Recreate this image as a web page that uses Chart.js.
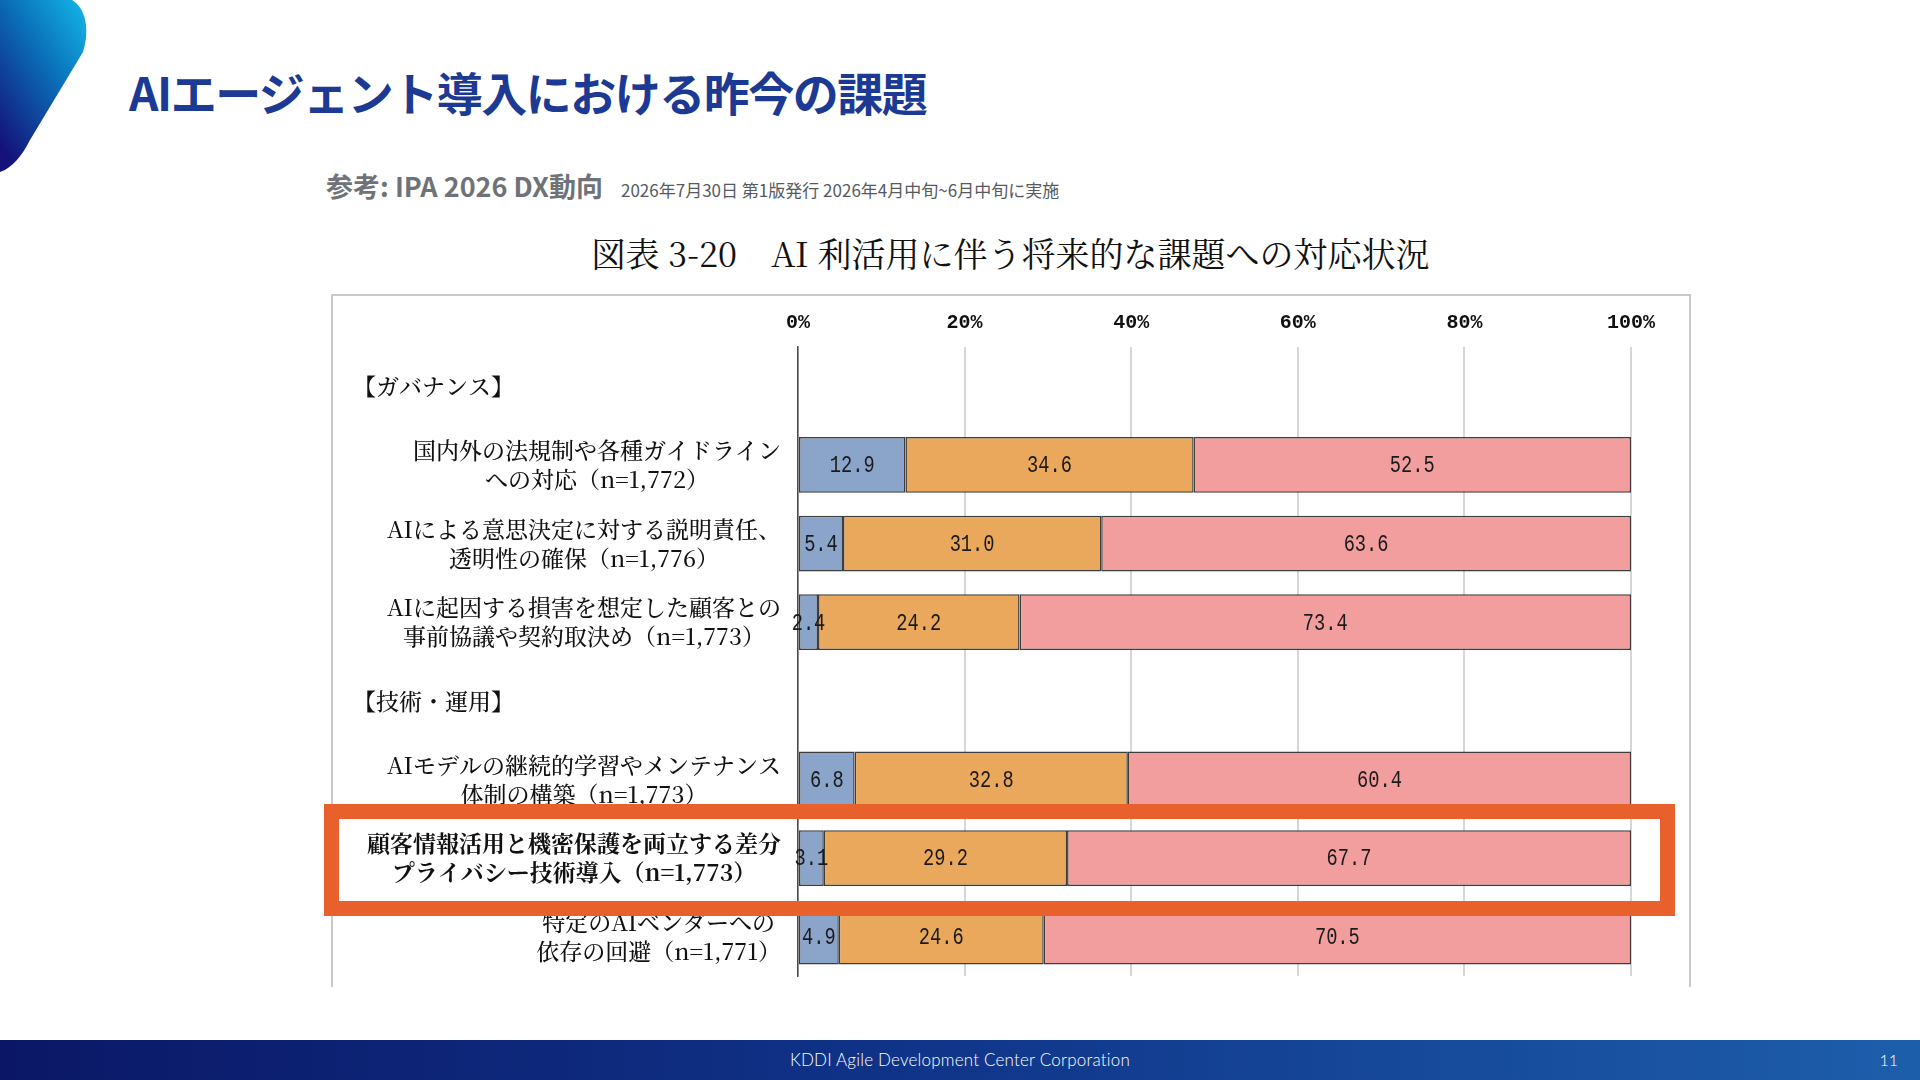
<!DOCTYPE html>
<html lang="ja">
<head>
<meta charset="utf-8">
<title>AIエージェント導入における昨今の課題</title>
<script src="https://cdn.jsdelivr.net/npm/chart.js@4.4.1/dist/chart.umd.min.js"></script>
<style>
  html, body { margin: 0; padding: 0; }
  body {
    width: 1920px; height: 1080px; position: relative; overflow: hidden;
    background: #ffffff;
    font-family: "Noto Sans CJK JP", "Noto Sans", sans-serif;
  }
  #blob { position: absolute; left: 0; top: 0; }
  #pageTitle {
    position: absolute; left: 129px; top: 62px;
    font-size: 46px; line-height: 58px; font-weight: 700;
    letter-spacing: -1.5px; color: #1c3a94; white-space: nowrap;
  }
  #refMain {
    position: absolute; left: 326px; top: 169px;
    font-size: 27px; line-height: 34px; font-weight: 700;
    color: #6f7378; white-space: nowrap;
  }
  #refSub {
    position: absolute; left: 621px; top: 179px;
    font-size: 17px; line-height: 22px; color: #555a60; white-space: nowrap;
  }
  #chartTitle {
    position: absolute; left: 591px; top: 229px; width: 839px;
    font-family: "Noto Serif CJK JP", "Noto Sans CJK JP", serif;
    font-size: 34px; line-height: 48px; color: #111; text-align: center;
    white-space: nowrap;
  }
  #chartBox {
    position: absolute; left: 331px; top: 294px; width: 1360px; height: 693px;
    box-sizing: border-box; border: 2px solid #c9c9c9; border-bottom: none;
  }
  #chartBox canvas { position: absolute; left: 0; top: 0; }
  #highlight {
    position: absolute; left: 324px; top: 804px; width: 1351px; height: 112px;
    box-sizing: border-box; border: 15px solid #e8602c; z-index: 5;
  }
  #footer {
    position: absolute; left: 0; top: 1040px; width: 1920px; height: 40px;
    background: linear-gradient(90deg, #0b1766 0%, #0f3287 45%, #1d5eab 100%);
    color: #ffffff; font-family: Lato, "Open Sans", sans-serif; font-weight: 300;
  }
  #footer .corp {
    position: absolute; left: 0; width: 1920px; top: 9px; text-align: center;
    font-size: 17px; line-height: 22px; letter-spacing: 0.2px;
  }
  #footer .page {
    position: absolute; right: 22px; top: 9px; font-size: 16px; line-height: 22px;
  }
</style>
</head>
<body>

<svg id="blob" width="95" height="180" viewBox="0 0 95 180">
  <defs>
    <linearGradient id="blobGrad" x1="1" y1="0" x2="0.2" y2="1">
      <stop offset="0" stop-color="#14b8ea"/>
      <stop offset="0.45" stop-color="#0a6fb8"/>
      <stop offset="1" stop-color="#15127a"/>
    </linearGradient>
  </defs>
  <path d="M0 0 H72 C86 8 90 30 83 52 L30 140 C22 156 12 168 0 172 Z" fill="url(#blobGrad)"/>
</svg>

<div id="pageTitle">AIエージェント導入における昨今の課題</div>
<div id="refMain">参考: IPA 2026 DX動向</div>
<div id="refSub">2026年7月30日 第1版発行 2026年4月中旬~6月中旬に実施</div>
<div id="chartTitle">図表 3-20　AI 利活用に伴う将来的な課題への対応状況</div>

<div id="chartBox">
  <canvas id="myChart" width="1356" height="691"></canvas>
</div>
<div id="highlight"></div>

<div id="footer">
  <div class="corp">KDDI Agile Development Center Corporation</div>
  <div class="page">11</div>
</div>

<script>
// rows of the chart, top to bottom (one-line rows are section headers)
var rowLabels = [
  ['【ガバナンス】'],
  ['国内外の法規制や各種ガイドライン', 'への対応（n=1,772）'],
  ['AIによる意思決定に対する説明責任、', '透明性の確保（n=1,776）'],
  ['AIに起因する損害を想定した顧客との', '事前協議や契約取決め（n=1,773）'],
  ['【技術・運用】'],
  ['AIモデルの継続的学習やメンテナンス', '体制の構築（n=1,773）'],
  ['顧客情報活用と機密保護を両立する差分', 'プライバシー技術導入（n=1,773）'],
  ['特定のAIベンダーへの', '依存の回避（n=1,771）']
];
var seriesNames = ['対応済み', '対応予定', '未対応'];
var doneValues = [null, 12.9, 5.4, 2.4, null, 6.8, 3.1, 4.9];
var planValues = [null, 34.6, 31.0, 24.2, null, 32.8, 29.2, 24.6];
var notValues  = [null, 52.5, 63.6, 73.4, null, 60.4, 67.7, 70.5];
var tickStep = 20;
var highlightRow = 6;

const BAR_COLORS = ['#8aa4ca', '#e9a85b', '#f29e9e'];
const LABEL_FONT = '"Noto Serif CJK JP", "Noto Sans CJK JP", serif';

// left side labels: headers left aligned, item lines centred inside a right aligned block
var rowLabelPlugin = {
  id: 'rowLabels',
  afterDraw: function(chart) {
    var ctx = chart.ctx;
    var yScale = chart.scales.y;
    var rightEdge = chart.chartArea.left - 17;
    ctx.save();
    ctx.fillStyle = '#111';
    ctx.textBaseline = 'middle';
    rowLabels.forEach(function(lines, i) {
      var y = yScale.getPixelForValue(i);
      ctx.font = (i === highlightRow ? '700 ' : '500 ') + '23px ' + LABEL_FONT;
      if (lines.length === 1) {
        ctx.textAlign = 'left';
        ctx.fillText(lines[0], 20, y);
        return;
      }
      var w = 0;
      lines.forEach(function(l) { w = Math.max(w, ctx.measureText(l).width); });
      ctx.textAlign = 'center';
      lines.forEach(function(l, k) {
        ctx.fillText(l, rightEdge - w / 2, y + (k - (lines.length - 1) / 2) * 29);
      });
    });
    ctx.restore();
  }
};

// values written in the middle of each segment, narrow like the original print
var valueLabelPlugin = {
  id: 'valueLabels',
  afterDatasetsDraw: function(chart) {
    var ctx = chart.ctx;
    ctx.save();
    ctx.fillStyle = '#1a1a1a';
    ctx.textAlign = 'center';
    ctx.textBaseline = 'middle';
    ctx.font = '24px "Liberation Mono", monospace';
    chart.data.datasets.forEach(function(ds, di) {
      var meta = chart.getDatasetMeta(di);
      meta.data.forEach(function(bar, i) {
        var v = ds.data[i];
        if (v === null) return;
        ctx.save();
        ctx.translate((bar.x + bar.base) / 2, bar.y + 1);
        ctx.scale(0.78, 1);
        ctx.fillText(v.toFixed(1), 0, 0);
        ctx.restore();
      });
    });
    ctx.restore();
  }
};

var ctx = document.getElementById('myChart').getContext('2d');
var myBarChart = new Chart(ctx, {
  type: 'bar',
  data: {
    labels: rowLabels.map(function(l) { return l.join(''); }),
    datasets: [doneValues, planValues, notValues].map(function(vals, k) {
      return {
        label: seriesNames[k],
        data: vals,
        backgroundColor: BAR_COLORS[k],
        borderColor: '#3d3d3d',
        borderWidth: 1.5,
        borderSkipped: false,
        categoryPercentage: 1,
        barPercentage: 0.71
      };
    })
  },
  options: {
    indexAxis: 'y',
    responsive: false,
    animation: false,
    layout: { padding: { left: 0, top: 0, right: 58, bottom: 11 } },
    plugins: {
      legend: { display: false },
      tooltip: { enabled: false }
    },
    scales: {
      x: {
        position: 'top',
        stacked: true,
        min: 0,
        max: 100,
        afterFit: function(scale) { scale.height = 51; },
        border: { display: false },
        grid: { color: '#d6d6d6', lineWidth: 2, drawTicks: false },
        ticks: {
          stepSize: tickStep,
          padding: 12,
          color: '#111',
          font: { family: '"Liberation Mono", monospace', size: 20, weight: 'bold' },
          callback: function(v) { return v + '%'; }
        }
      },
      y: {
        stacked: true,
        afterFit: function(scale) { scale.width = 465; },
        border: { display: true, color: '#4a4a4a', width: 1.5 },
        grid: { display: false },
        ticks: { display: false }
      }
    }
  },
  plugins: [rowLabelPlugin, valueLabelPlugin]
});
</script>
</body>
</html>
